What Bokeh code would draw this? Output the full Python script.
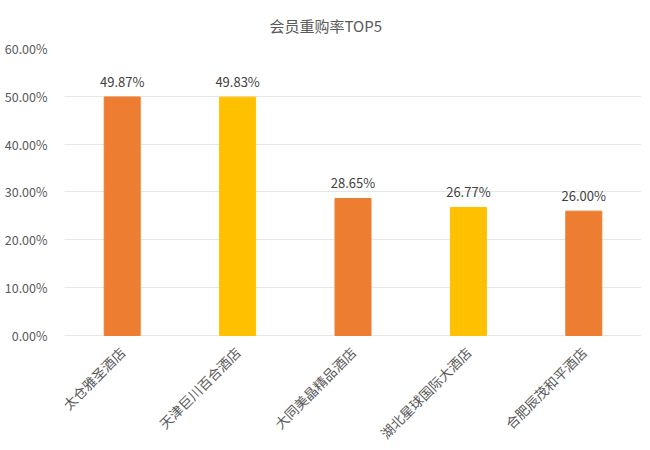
import math
from bokeh.plotting import figure
from bokeh.models import ColumnDataSource, NumeralTickFormatter, Range1d, FactorRange
from bokeh.core.properties import value
from bokeh.embed import file_html
from bokeh.resources import INLINE

hotels = ["太仓雅圣酒店", "天津巨川百合酒店", "大同美晶精品酒店", "湖北星球国际大酒店", "合肥辰茂和平酒店"]
rates = [0.4987, 0.4983, 0.2865, 0.2677, 0.2600]
colors = ["#ED7D31", "#FFC000", "#ED7D31", "#FFC000", "#ED7D31"]
y_ticks = [0, 0.1, 0.2, 0.3, 0.4, 0.5, 0.6]
title_text = "会员重购率TOP5"

FONT = "Noto Sans CJK SC"

src = ColumnDataSource(dict(
    x=hotels, top=rates, color=colors, zero=[0] * len(hotels),
    label=[f"{v * 100:.2f}%" for v in rates],
))

# the frame extends below 0 so the rotated category names are drawn inside it
p = figure(width=642, height=442, x_range=FactorRange(*hotels), y_range=Range1d(-0.2237, 0.6),
           output_backend="svg", toolbar_location=None,
           min_border_left=64, min_border_right=1, min_border_top=48, min_border_bottom=0)

p.title.text = title_text
p.title.align = "left"
p.title.offset = 205
p.title.standoff = 25
p.title.text_font = FONT
p.title.text_font_size = "15px"
p.title.text_font_style = "normal"
p.title.text_color = "#595959"

p.vbar(x="x", top="top", width=0.312, color="color", source=src)
p.text(x="x", y="top", text="label", source=src, text_align="center", text_baseline="bottom",
       y_offset=-6, text_font=value(FONT), text_font_size="13px", text_color="#404040")

# category names, rotated 45 degrees, ending under each bar
p.text(x="x", y="zero", text="x", source=src, angle=math.pi / 4,
       text_align="right", text_baseline="middle", x_offset=0, y_offset=14,
       text_font=value(FONT), text_font_size="13.5px", text_color="#595959")

p.outline_line_color = None
p.background_fill_color = "white"
p.border_fill_color = "white"

p.xgrid.grid_line_color = None
p.ygrid.ticker = y_ticks
p.ygrid.grid_line_color = "#e6e6e6"
p.ygrid.grid_line_width = 1

p.yaxis.formatter = NumeralTickFormatter(format="0.00%")
p.yaxis.ticker = y_ticks
p.yaxis.axis_line_color = None
p.yaxis.major_tick_line_color = None
p.yaxis.minor_tick_line_color = None
p.yaxis.major_label_standoff = 11
p.yaxis.major_label_text_font = FONT
p.yaxis.major_label_text_font_size = "12.5px"
p.yaxis.major_label_text_color = "#595959"

p.xaxis.visible = False

open("out.html", "w").write(file_html(p, INLINE))
